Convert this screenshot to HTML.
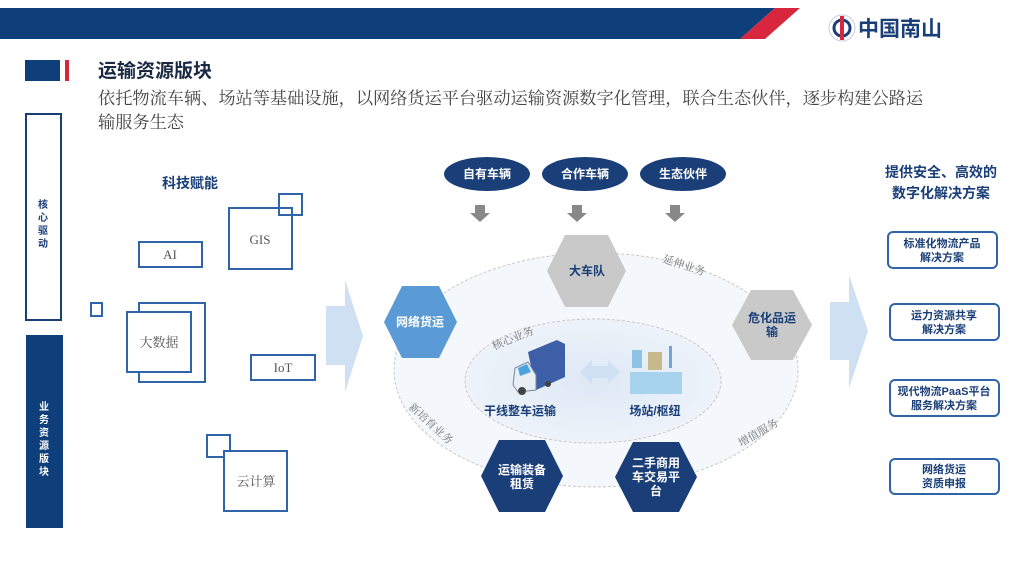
<!DOCTYPE html>
<html><head><meta charset="utf-8"><style>
body{margin:0;width:1024px;height:561px;background:#fff;overflow:hidden;font-family:"Liberation Serif","Noto Serif CJK SC",serif;}
</style></head><body>
<svg width="1024" height="561" viewBox="0 0 1024 561" xmlns="http://www.w3.org/2000/svg" font-family="Liberation Serif, Noto Serif CJK SC, serif">
<defs>
<radialGradient id="ig" cx="50%" cy="50%" r="50%"><stop offset="0" stop-color="#dde8f5"/><stop offset="1" stop-color="#eef3fa"/></radialGradient>
</defs>
<!-- header -->
<polygon points="0,8 775,8 740,39 0,39" fill="#0f3f7a"/>
<polygon points="775,8 800,8 765,39 740,39" fill="#d7263d"/>
<circle cx="842" cy="28" r="13" fill="#fff" stroke="#ccd" stroke-width="1"/>
<circle cx="842" cy="28" r="8" fill="none" stroke="#1a3f78" stroke-width="3"/>
<rect x="840" y="16" width="4" height="24" fill="#d7263d"/>
<text x="858" y="36" font-family="Liberation Sans, Noto Sans CJK SC, sans-serif" font-weight="bold" font-size="21" fill="#1a3f78">中国南山</text>
<!-- title -->
<rect x="25" y="60" width="35" height="21" fill="#0f3f7a"/>
<rect x="65" y="60" width="4" height="21" fill="#d7263d"/>
<text x="98" y="77" font-family="Liberation Sans, Noto Sans CJK SC, sans-serif" font-weight="bold" font-size="19" fill="#1a2a44">运输资源版块</text>
<text x="98" y="104" font-size="17.2" fill="#444">依托物流车辆、场站等基础设施，以网络货运平台驱动运输资源数字化管理，联合生态伙伴，逐步构建公路运</text>
<text x="98" y="128" font-size="17.2" fill="#444">输服务生态</text>
<!-- left vertical -->
<rect x="26" y="114" width="35" height="206" fill="#fff" stroke="#1a3f78" stroke-width="2"/>
<g font-family="Liberation Sans, Noto Sans CJK SC, sans-serif" font-weight="bold" font-size="10" fill="#1a3f78" text-anchor="middle">
<text x="43" y="208">核</text><text x="43" y="221">心</text><text x="43" y="234">驱</text><text x="43" y="247">动</text></g>
<rect x="26" y="335" width="37" height="193" fill="#0f3f7a"/>
<g font-family="Liberation Sans, Noto Sans CJK SC, sans-serif" font-weight="bold" font-size="10" fill="#fff" text-anchor="middle">
<text x="44" y="410">业</text><text x="44" y="423">务</text><text x="44" y="436">资</text><text x="44" y="449">源</text><text x="44" y="462">版</text><text x="44" y="475">块</text></g>
<!-- tech -->
<text x="190" y="188" text-anchor="middle" font-family="Liberation Sans, Noto Sans CJK SC, sans-serif" font-weight="bold" font-size="14" fill="#1a3f78">科技赋能</text>
<g fill="none" stroke="#2f65a8" stroke-width="2">
<rect x="229" y="208" width="63" height="61" fill="#fff"/>
<rect x="279" y="194" width="23" height="21"/>
<rect x="139" y="242" width="63" height="25"/>
<rect x="91" y="303" width="11" height="13"/>
<rect x="139" y="303" width="66" height="79"/>
<rect x="127" y="312" width="64" height="60" fill="#fff"/>
<rect x="251" y="355" width="64" height="25"/>
<rect x="207" y="435" width="23" height="22"/>
<rect x="224" y="451" width="63" height="60" fill="#fff"/>
</g>
<g fill="#555" font-size="13" text-anchor="middle">
<text x="260" y="244">GIS</text><text x="170" y="259">AI</text><text x="159" y="347">大数据</text><text x="283" y="372">IoT</text><text x="256" y="486">云计算</text></g>
<!-- big arrows -->
<g fill="#cfe0f3">
<polygon points="345,280 363,336 345,392 345,365 326,365 326,306 345,306"/>
<polygon points="849,275 868,331 849,388 849,360 830,360 830,302 849,302"/>
</g>
<!-- ellipses -->
<ellipse cx="596" cy="370" rx="202" ry="117" fill="#f4f7fc" stroke="#c8c8c8" stroke-width="1" stroke-dasharray="3,2"/>
<ellipse cx="593" cy="381" rx="128" ry="62" fill="url(#ig)" stroke="#c8c8c8" stroke-width="1" stroke-dasharray="3,2"/>
<!-- top ovals -->
<g fill="#1a3f78"><ellipse cx="487" cy="174" rx="43" ry="17"/><ellipse cx="585" cy="174" rx="43" ry="17"/><ellipse cx="683" cy="174" rx="43" ry="17"/></g>
<g fill="#fff" font-family="Liberation Sans, Noto Sans CJK SC, sans-serif" font-weight="bold" font-size="12" text-anchor="middle">
<text x="487" y="178">自有车辆</text><text x="585" y="178">合作车辆</text><text x="683" y="178">生态伙伴</text></g>
<g fill="#888">
<polygon points="475,205 485,205 485,213 490,213 480,222 470,213 475,213"/>
<polygon points="572,205 582,205 582,213 587,213 577,222 567,213 572,213"/>
<polygon points="670,205 680,205 680,213 685,213 675,222 665,213 670,213"/>
</g>
<!-- hexagons -->
<polygon points="547,271 565,235 608,235 626,271 608,307 565,307" fill="#c9c9c9"/>
<polygon points="384,322 402,286 439,286 457,322 439,358 402,358" fill="#5b9bd5"/>
<polygon points="732,325 751,290 793,290 812,325 793,360 751,360" fill="#c9c9c9"/>
<polygon points="481,476 499,440 545,440 563,476 545,512 499,512" fill="#1a3f78"/>
<polygon points="615,477 633,442 679,442 697,477 679,512 633,512" fill="#1a3f78"/>
<g font-family="Liberation Sans, Noto Sans CJK SC, sans-serif" font-weight="bold" font-size="12" text-anchor="middle">
<text x="587" y="275" fill="#1a3f78">大车队</text>
<text x="420" y="326" fill="#fff">网络货运</text>
<text x="772" y="322" fill="#1a3f78">危化品运</text><text x="772" y="336" fill="#1a3f78">输</text>
<text x="522" y="474" fill="#fff">运输装备</text><text x="522" y="488" fill="#fff">租赁</text>
<text x="656" y="467" fill="#fff">二手商用</text><text x="656" y="481" fill="#fff">车交易平</text><text x="656" y="495" fill="#fff">台</text>
</g>
<!-- ring labels -->
<g fill="#777" font-size="11">
<text transform="translate(662,262) rotate(18)">延伸业务</text>
<text transform="translate(494,350) rotate(-22)">核心业务</text>
<text transform="translate(408,408) rotate(42)">新培育业务</text>
<text transform="translate(741,447) rotate(-30)">增值服务</text>
</g>
<!-- truck -->
<polygon points="528,352 557,340 565,344 565,377 536,390" fill="#3d5fa8"/>
<polygon points="515,368 528,362 536,375 536,390 518,392 513,385" fill="#e9eef5" stroke="#7a8aa0" stroke-width="1"/>
<polygon points="518,368 527,364 531,372 520,376" fill="#4aa3e0"/>
<circle cx="522" cy="391" r="4" fill="#444"/><circle cx="548" cy="384" r="3" fill="#444"/>
<!-- double arrow -->
<polygon points="580,372 592,360 592,366 608,366 608,360 620,372 608,384 608,378 592,378 592,384" fill="#cfe0f3"/>
<!-- station -->
<rect x="632" y="350" width="10" height="18" fill="#8fc3e6"/>
<rect x="648" y="352" width="14" height="18" fill="#c8b98a"/>
<rect x="669" y="346" width="3" height="22" fill="#6fa6d6"/>
<rect x="630" y="372" width="52" height="22" fill="#a7d3ef"/>
<g font-family="Liberation Sans, Noto Sans CJK SC, sans-serif" font-weight="bold" font-size="12" fill="#1a3f78" text-anchor="middle">
<text x="520" y="415">干线整车运输</text><text x="655" y="415">场站/枢纽</text></g>
<!-- right -->
<g font-family="Liberation Sans, Noto Sans CJK SC, sans-serif" font-weight="bold" font-size="14" fill="#1a3f78" text-anchor="middle">
<text x="941" y="177">提供安全、高效的</text><text x="941" y="198">数字化解决方案</text></g>
<g fill="#fff" stroke="#2f65a8" stroke-width="2">
<rect x="888" y="232" width="109" height="36" rx="5"/>
<rect x="890" y="304" width="109" height="36" rx="5"/>
<rect x="890" y="380" width="109" height="36" rx="5"/>
<rect x="890" y="459" width="109" height="35" rx="5"/>
</g>
<g font-family="Liberation Sans, Noto Sans CJK SC, sans-serif" font-weight="bold" font-size="11" fill="#1a3f78" text-anchor="middle">
<text x="942" y="247">标准化物流产品</text><text x="942" y="261">解决方案</text>
<text x="944" y="319">运力资源共享</text><text x="944" y="333">解决方案</text>
<text x="944" y="395">现代物流PaaS平台</text><text x="944" y="409">服务解决方案</text>
<text x="944" y="473">网络货运</text><text x="944" y="487">资质申报</text>
</g>
</svg>
</body></html>
